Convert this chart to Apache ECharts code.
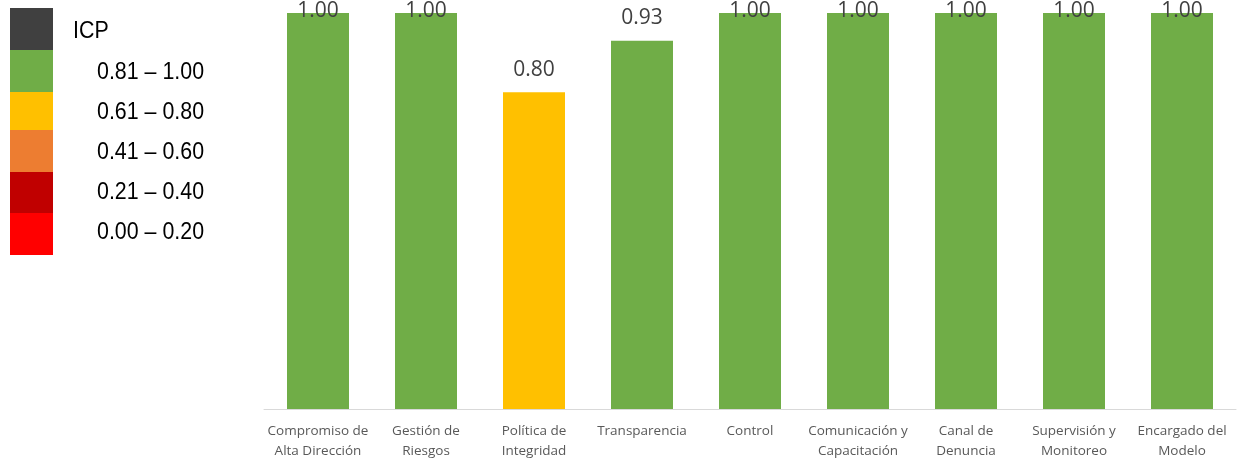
<!DOCTYPE html>
<html>
<head>
<meta charset="utf-8">
<script src="https://cdn.jsdelivr.net/npm/echarts@6/dist/echarts.min.js"></script>
<style>
html,body{margin:0;padding:0;background:#fff;}
#chart{width:1238px;height:461px;}
</style>
</head>
<body>
<div id="chart"></div>
<script>
// ---- data ----
var categories = [
  'Compromiso de\nAlta Dirección',
  'Gestión de\nRiesgos',
  'Política de\nIntegridad',
  'Transparencia',
  'Control',
  'Comunicación y\nCapacitación',
  'Canal de\nDenuncia',
  'Supervisión y\nMonitoreo',
  'Encargado del\nModelo'
];
var values = [1.00, 1.00, 0.80, 0.93, 1.00, 1.00, 1.00, 1.00, 1.00];

var legendTitle = 'ICP';
var legendLabels = ['0.81 – 1.00', '0.61 – 0.80', '0.41 – 0.60', '0.21 – 0.40', '0.00 – 0.20'];
var legendMins = [0.81, 0.61, 0.41, 0.21, 0.00];
var legendColors = ['#70AD47', '#FFC000', '#ED7D31', '#C00000', '#FF0000'];
var titleSwatchColor = '#404040';

function colorFor(v) {
  for (var i = 0; i < legendMins.length; i++) {
    if (v >= legendMins[i] - 1e-9) return legendColors[i];
  }
  return legendColors[legendColors.length - 1];
}

var seriesData = values.map(function (v) {
  var item = { value: v, itemStyle: { color: colorFor(v) } };
  if (v >= 0.99) {
    item.label = { offset: [0, 21] };
  }
  return item;
});

// legend graphics
var graphics = [];
var swatchTops = [8, 50, 92, 130, 172, 213, 255];
var allColors = [titleSwatchColor].concat(legendColors);
for (var i = 0; i < allColors.length; i++) {
  graphics.push({
    type: 'rect',
    shape: { x: 10, y: swatchTops[i], width: 43, height: swatchTops[i + 1] - swatchTops[i] },
    style: { fill: allColors[i] },
    silent: true
  });
}
var legendFont = '23px "Liberation Sans", Arial, sans-serif';
graphics.push({
  type: 'text', x: 73, y: 32, scaleX: 0.93,
  style: { text: legendTitle, font: legendFont, fill: '#000', verticalAlign: 'middle' }
});
for (var j = 0; j < legendLabels.length; j++) {
  graphics.push({
    type: 'text', x: 97, y: 73 + j * 40, scaleX: 0.93,
    style: { text: legendLabels[j], font: legendFont, fill: '#000', verticalAlign: 'middle' }
  });
}

var chart = echarts.init(document.getElementById('chart'), null, { renderer: 'canvas' });
chart.setOption({
  animation: false,
  backgroundColor: '#fff',
  grid: { left: 264, right: 2, top: 13, bottom: 51, containLabel: false },
  xAxis: {
    type: 'category',
    data: categories,
    axisLine: { show: true, lineStyle: { color: '#D9D9D9', width: 1 } },
    axisTick: { show: false },
    axisLabel: {
      interval: 0,
      margin: 12,
      color: '#595959',
      fontSize: 13.5,
      lineHeight: 20,
      fontFamily: '"Open Sans", sans-serif'
    }
  },
  yAxis: {
    type: 'value',
    min: 0,
    max: 1,
    show: false,
    splitLine: { show: false }
  },
  series: [{
    type: 'bar',
    data: seriesData,
    barWidth: 62,
    label: {
      show: true,
      position: 'top',
      distance: 12,
      formatter: function (p) { return p.value.toFixed(2); },
      color: '#404040',
      fontSize: 21,
      fontFamily: '"Open Sans", sans-serif'
    }
  }],
  graphic: graphics
});
</script>
</body>
</html>
